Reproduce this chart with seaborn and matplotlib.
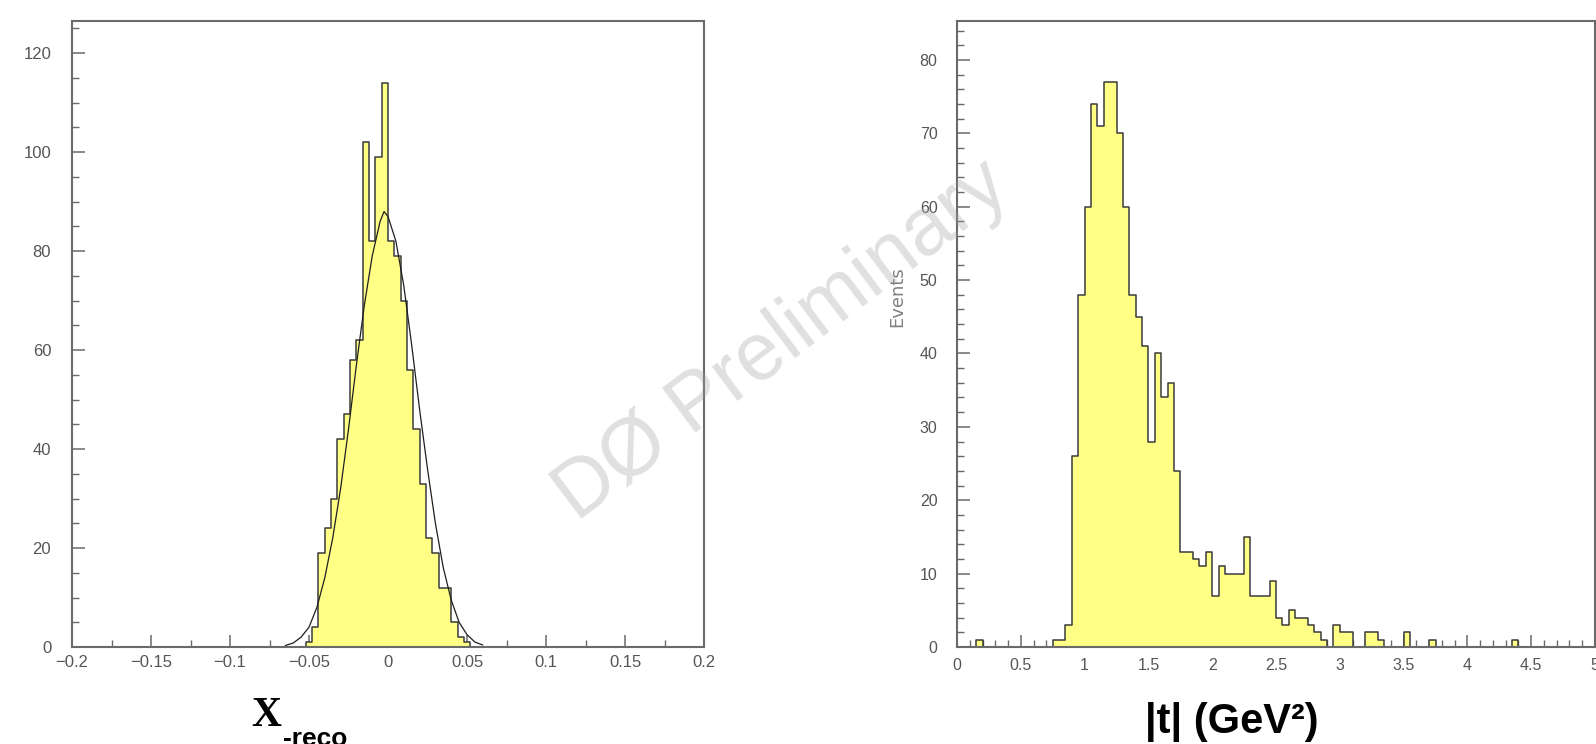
import numpy as np
import pandas as pd
import matplotlib
matplotlib.use("Agg")
import matplotlib.pyplot as plt
import seaborn as sns
from matplotlib import font_manager
from matplotlib.ticker import FixedLocator, MultipleLocator

# ---------------- data ----------------
# left panel: X_reco histogram (bin width 0.004)
xreco_centers = [-0.050, -0.046, -0.042, -0.038, -0.034, -0.030, -0.026, -0.022,
                 -0.018, -0.014, -0.010, -0.006, -0.002, 0.002, 0.006, 0.010,
                 0.014, 0.018, 0.022, 0.026, 0.030, 0.034, 0.038, 0.042,
                 0.046, 0.050, 0.054]
xreco_counts = [1, 4, 19, 24, 30, 42, 47, 58,
                62, 102, 82, 99, 114, 82, 79, 70,
                56, 44, 33, 22, 19, 12, 12, 5,
                2, 1, 0]
# gaussian fit curve
fit_x = [-0.065, -0.06, -0.055, -0.05, -0.045, -0.04, -0.035, -0.03, -0.025,
         -0.02, -0.015, -0.01, -0.005, -0.0025, 0.0, 0.005, 0.01, 0.015, 0.02,
         0.025, 0.03, 0.035, 0.04, 0.045, 0.05, 0.055, 0.06]
fit_y = [0.3, 0.8, 2, 4, 8, 14, 22, 32, 44,
         57, 69, 79, 86, 88, 87, 82, 73, 61, 48,
         36, 25, 16, 9.5, 5, 2.5, 1, 0.4]
left_xticks = [-0.2, -0.15, -0.1, -0.05, 0, 0.05, 0.1, 0.15, 0.2]
left_xlabels = ["\u22120.2", "\u22120.15", "\u22120.1", "\u22120.05", "0", "0.05", "0.1", "0.15", "0.2"]
left_yticks = [0, 20, 40, 60, 80, 100, 120]
left_ylabels = ["0", "20", "40", "60", "80", "100", "120"]

# right panel: |t| histogram (bin width 0.05, 0..5)
t_counts = [0, 0, 0, 1, 0, 0, 0, 0, 0, 0,          # 0.00 - 0.45
            0, 0, 0, 0, 0, 1, 1, 3, 26, 48,        # 0.50 - 0.95
            60, 74, 71, 77, 77, 70, 60, 48, 45, 41, # 1.00 - 1.45
            28, 40, 34, 36, 24, 13, 13, 12, 11, 13, # 1.50 - 1.95
            7, 11, 10, 10, 10, 15, 7, 7, 7, 9,     # 2.00 - 2.45
            4, 3, 5, 4, 4, 3, 2, 1, 0, 3,          # 2.50 - 2.95
            2, 2, 0, 0, 2, 2, 1, 0, 0, 0,          # 3.00 - 3.45
            2, 0, 0, 0, 1, 0, 0, 0, 0, 0,          # 3.50 - 3.95
            0, 0, 0, 0, 0, 0, 0, 1, 0, 0,          # 4.00 - 4.45
            0, 0, 0, 0, 0, 0, 0, 0, 0, 0]          # 4.50 - 4.95
t_lo_edges = [round(0.05 * i, 2) for i in range(100)]
t_centers = [e + 0.025 for e in t_lo_edges]
right_xticks = [0, 0.5, 1, 1.5, 2, 2.5, 3, 3.5, 4, 4.5, 5]
right_xlabels = ["0", "0.5", "1", "1.5", "2", "2.5", "3", "3.5", "4", "4.5", "5"]
right_yticks = [0, 10, 20, 30, 40, 50, 60, 70, 80]
right_ylabels = ["0", "10", "20", "30", "40", "50", "60", "70", "80"]

# ---------------- fonts ----------------
sns.set_theme(style="white")
avail = {f.name for f in font_manager.fontManager.ttflist}
def pick(*names):
    for n in names:
        if n in avail:
            return n
    return "DejaVu Sans"
SANS = pick("Liberation Sans", "Arial", "DejaVu Sans")
NARROW = pick("Liberation Sans Narrow", "Arial Narrow", "Liberation Sans")
SERIF = pick("Liberation Serif", "DejaVu Serif")
plt.rcParams["font.family"] = [SANS, "DejaVu Sans"]
narrow_ok = NARROW != SANS

YELLOW = "#ffff86"
EDGE = "#3a3a3a"
FRAME = "#6a6a6a"
TXT = "#555555"

W, H = 1596, 744
fig = plt.figure(figsize=(W / 100, H / 100), dpi=100)
fig.patch.set_facecolor("white")

def box(x0, y0, x1, y1):
    return [x0 / W, 1 - y1 / H, (x1 - x0) / W, (y1 - y0) / H]

axL = fig.add_axes(box(72, 21, 704, 647))
axR = fig.add_axes(box(957, 21, 1595, 647))

# ---- left ----
df_l = pd.DataFrame({"x": xreco_centers, "n": xreco_counts})
sns.histplot(data=df_l, x="x", weights="n", binwidth=0.004, binrange=(-0.052, 0.056),
             element="step", fill=True, color=YELLOW, alpha=1.0,
             edgecolor=EDGE, linewidth=1.1, ax=axL)
df_f = pd.DataFrame({"x": fit_x, "y": fit_y})
sns.lineplot(data=df_f, x="x", y="y", color="#1e1e1e", linewidth=0.9, ax=axL)
axL.set_xlim(-0.2, 0.2)
axL.set_ylim(0, 126.5)
axL.xaxis.set_major_locator(FixedLocator(left_xticks))
axL.set_xticklabels(left_xlabels)
axL.xaxis.set_minor_locator(MultipleLocator(0.025))
axL.yaxis.set_major_locator(FixedLocator(left_yticks))
axL.set_yticklabels(left_ylabels)
axL.yaxis.set_minor_locator(MultipleLocator(5))
axL.tick_params(axis="x", which="major", direction="in", length=9, width=1.1,
                color=FRAME, labelsize=12, labelcolor=TXT, pad=6)
axL.tick_params(axis="y", which="major", direction="in", length=9, width=1.1,
                color=FRAME, labelsize=12, labelcolor=TXT, pad=15)
axL.tick_params(which="minor", direction="in", length=5, width=1.0, color=FRAME)
axL.tick_params(bottom=True, left=True, which="both")
axL.set_xlabel("")
axL.set_ylabel("")

# ---- right ----
df_r = pd.DataFrame({"t": t_centers, "n": t_counts})
sns.histplot(data=df_r, x="t", weights="n", binwidth=0.05, binrange=(0, 5),
             element="step", fill=True, color=YELLOW, alpha=1.0,
             edgecolor=EDGE, linewidth=1.1, ax=axR)
axR.set_xlim(0, 5)
axR.set_ylim(0, 85.3)
axR.xaxis.set_major_locator(FixedLocator(right_xticks))
axR.set_xticklabels(right_xlabels)
axR.xaxis.set_minor_locator(MultipleLocator(0.1))
axR.yaxis.set_major_locator(FixedLocator(right_yticks))
axR.set_yticklabels(right_ylabels)
axR.yaxis.set_minor_locator(MultipleLocator(2))
axR.tick_params(axis="x", which="major", direction="in", length=9, width=1.1,
                color=FRAME, labelsize=11.5, labelcolor=TXT, pad=8)
axR.tick_params(axis="y", which="major", direction="in", length=9, width=1.1,
                color=FRAME, labelsize=11.5, labelcolor=TXT, pad=14)
axR.tick_params(which="minor", direction="in", length=5, width=1.0, color=FRAME)
axR.tick_params(bottom=True, left=True, which="both")
axR.set_xlabel("")
axR.set_ylabel("Events", fontsize=13, color="#808080", family=["DejaVu Sans"])
axR.yaxis.set_label_coords(-0.08, 0.56)

for ax in (axL, axR):
    for s in ax.spines.values():
        s.set_visible(True)
        s.set_color(FRAME)
        s.set_linewidth(1.5)
    ax.set_facecolor("white")

# ---- axis titles ----
fig.text(266 / W, 1 - 726 / H, "X", family=SERIF, fontweight="bold", fontsize=30,
         color="black", ha="center", va="baseline")
fig.text(283 / W, 1 - 746 / H, "-reco", family=NARROW, fontweight="bold",
         fontsize=20 if narrow_ok else 19, color="black", ha="left", va="baseline")
fig.text(1232 / W, 1 - 733 / H, "|t| (GeV\u00b2)", family=NARROW, fontweight="bold",
         fontsize=34 if narrow_ok else 30, color="black", ha="center", va="baseline")

# ---- watermark ----
fig.text(782 / W, 1 - 341 / H, "D\u00d8 Preliminary", family=SANS, fontsize=58,
         color="#a0a0a0", alpha=0.33, rotation=37, ha="center", va="center",
         rotation_mode="anchor", zorder=10)

fig.savefig("out.png", dpi=100, facecolor="white")
